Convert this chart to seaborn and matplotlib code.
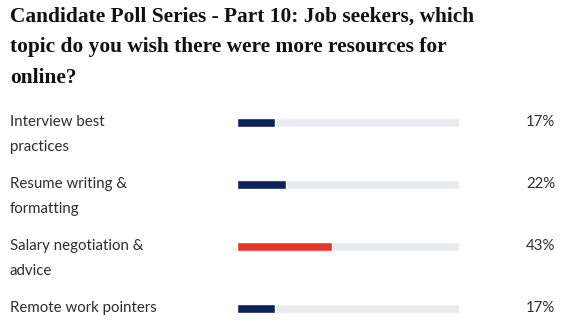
import matplotlib
matplotlib.use("Agg")
import matplotlib.pyplot as plt
import matplotlib.transforms as mtransforms
import seaborn as sns
import pandas as pd

# ---- data ----
title_lines = ["Candidate Poll Series - Part 10: Job seekers, which",
               "topic do you wish there were more resources for",
               "online?"]
categories = ["Interview best\npractices", "Resume writing &\nformatting",
              "Salary negotiation &\nadvice", "Remote work pointers"]
values = [17, 22, 43, 17]
track = [100, 100, 100, 100]
highlight = ["no", "no", "yes", "no"]

sns.set_theme(style="white")
plt.rcParams["font.family"] = ["Lato", "DejaVu Sans"]

W, H, DPI = 5.70, 3.32, 100
fig = plt.figure(figsize=(W, H), dpi=DPI)
fig.patch.set_facecolor("white")

def px(x, y):
    return x / (W * DPI), 1 - y / (H * DPI)

# axes: x from 237px to 459px, rows centered at 122,184,246,308 px
row_px = 62.0
top_px = 122 - row_px * 0.5
bot_px = 308 + row_px * 0.3
x0, y0 = px(237, bot_px)
x1, y1 = px(459, top_px)
ax = fig.add_axes([x0, y0, x1 - x0, y1 - y0])

df = pd.DataFrame({"cat": categories, "val": values, "track": track, "hl": highlight})
bw = 9 / row_px
sns.barplot(data=df, y="cat", x="track", color="#e9eaee", width=bw, ax=ax, orient="h",
            saturation=1)
sns.barplot(data=df, y="cat", x="val", hue="hl", palette={"no": "#0f2257", "yes": "#e8352a"},
            width=bw, dodge=False, ax=ax, orient="h", legend=False, saturation=1)
ax.set_xlim(0, 100)
ax.set_ylim(3.3, -0.5)
ax.axis("off")

renderer = fig.canvas.get_renderer()

# title, fitted so first line spans ~464 px
tkw = dict(family=["Liberation Serif"], weight="bold", color="#111111")
t = fig.text(*px(10, 22), title_lines[0], va="baseline", ha="left", fontsize=15, **tkw)
w = t.get_window_extent(renderer).width
fs = 15 * 464 / w
t.set_fontsize(fs)
for i, line in enumerate(title_lines[1:], start=1):
    fig.text(*px(10, 22 + 30.3 * i), line, va="baseline", ha="left", fontsize=fs, **tkw)

# category labels
lab_tf = mtransforms.blended_transform_factory(fig.transFigure, ax.transData)
lkw = dict(color="#2e2e2e", family=["Lato", "DejaVu Sans"])
probe = fig.text(0, 0, "Remote work pointers", fontsize=11, **lkw)
lfs = 11 * 147 / probe.get_window_extent(renderer).width
probe.remove()
for i, (c, v) in enumerate(zip(categories, values)):
    lines = c.split("\n")
    for j, ln in enumerate(lines):
        off = mtransforms.ScaledTranslation(0, -25 * j / DPI, fig.dpi_scale_trans)
        ax.text(10 / (W * DPI), i, ln, transform=lab_tf + off, ha="left", va="center",
                fontsize=lfs, **lkw)
    ax.text(555 / (W * DPI), i, f"{v}%", transform=lab_tf, ha="right", va="center",
            fontsize=lfs, **lkw)

fig.savefig("out.png", dpi=DPI, facecolor="white")
